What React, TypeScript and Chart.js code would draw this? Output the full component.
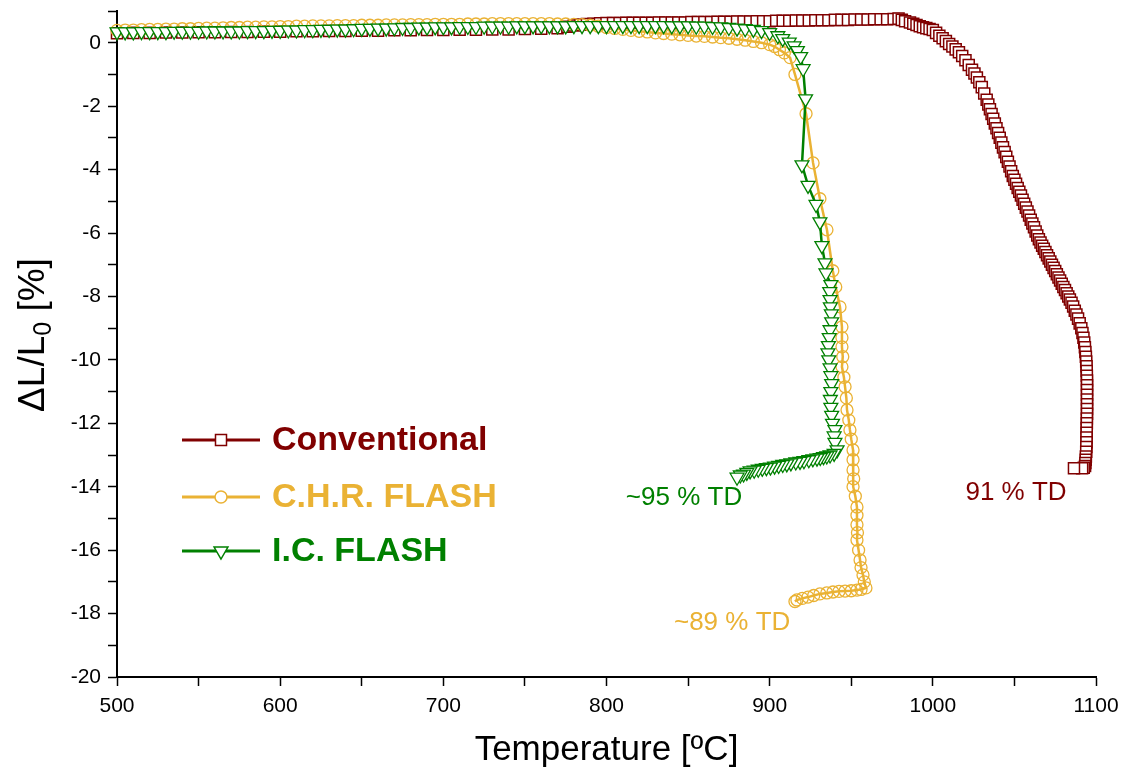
import React, { useEffect, useRef } from 'react';
import { Chart, registerables } from 'chart.js';

Chart.register(...registerables);

// ---- Data: [temperature ºC, ΔL/L0 %] ----
const conventional: [number, number][] = [
  [500, 0.30], [510, 0.31], [520, 0.31], [530, 0.32], [540, 0.32], [550, 0.33], [560, 0.33], [570, 0.34],
  [580, 0.34], [590, 0.35], [600, 0.35], [610, 0.36], [620, 0.36], [630, 0.37], [640, 0.37], [650, 0.38],
  [660, 0.38], [670, 0.39], [680, 0.39], [690, 0.40], [700, 0.40], [710, 0.41], [720, 0.41], [730, 0.42],
  [740, 0.42], [750, 0.43], [760, 0.44], [770, 0.46], [776, 0.50], [780, 0.54], [784, 0.57], [788, 0.59],
  [792, 0.60], [796, 0.61], [800, 0.62], [804, 0.62], [808, 0.62], [812, 0.63], [816, 0.63], [820, 0.63],
  [824, 0.63], [828, 0.63], [832, 0.64], [836, 0.64], [840, 0.64], [844, 0.64], [848, 0.64], [852, 0.65],
  [856, 0.65], [860, 0.65], [864, 0.65], [868, 0.66], [872, 0.66], [876, 0.66], [880, 0.67], [884, 0.67],
  [888, 0.67], [892, 0.68], [896, 0.68], [900, 0.68], [904, 0.69], [908, 0.69], [912, 0.69], [916, 0.70],
  [920, 0.70], [924, 0.70], [928, 0.71], [932, 0.71], [936, 0.71], [940, 0.72], [944, 0.72], [948, 0.72],
  [952, 0.73], [956, 0.73], [960, 0.73], [964, 0.74], [968, 0.74], [972, 0.74], [976, 0.75], [979, 0.76],
  [981, 0.72], [983, 0.68], [986, 0.64], [988, 0.60], [990, 0.56], [992, 0.52], [994, 0.49], [996, 0.46],
  [998, 0.43], [1000, 0.40], [1002, 0.31], [1004, 0.22], [1006, 0.14], [1008, 0.05], [1010, -0.04],
  [1012, -0.12], [1014, -0.21], [1016, -0.30], [1018, -0.42], [1020, -0.55], [1022, -0.70], [1024, -0.85],
  [1025.5, -0.97], [1027, -1.10], [1028.5, -1.25], [1030, -1.40], [1031.5, -1.60], [1033, -1.80],
  [1034, -1.95], [1035, -2.10], [1036, -2.25], [1037, -2.40], [1038, -2.55], [1039, -2.70], [1040, -2.85],
  [1041, -3.00], [1042, -3.15], [1043, -3.30], [1044, -3.45], [1045, -3.60], [1046, -3.75], [1047, -3.90],
  [1048, -4.05], [1049, -4.20], [1050, -4.32], [1051, -4.45], [1052, -4.58], [1053, -4.70], [1054, -4.82],
  [1055, -4.95], [1056, -5.08], [1057, -5.20], [1058, -5.32], [1059, -5.45], [1060, -5.58], [1061, -5.70],
  [1062, -5.82], [1063, -5.95], [1064, -6.08], [1065, -6.20], [1066, -6.30], [1067, -6.40], [1068, -6.50],
  [1069, -6.60], [1070, -6.70], [1071, -6.80], [1072, -6.90], [1073, -7.00], [1074, -7.10], [1075, -7.20],
  [1076, -7.30], [1077, -7.40], [1078, -7.50], [1079, -7.60], [1080, -7.70], [1081, -7.80], [1082, -7.90],
  [1083, -8.00], [1084, -8.10], [1085, -8.20], [1086, -8.32], [1087, -8.45], [1088, -8.57], [1089, -8.70],
  [1090, -8.85], [1091, -9.00], [1091.7, -9.15], [1092.3, -9.30], [1092.8, -9.45], [1093.2, -9.60],
  [1093.5, -9.75], [1093.8, -9.90], [1094, -10.05], [1094.2, -10.20], [1094.3, -10.35], [1094.4, -10.50],
  [1094.5, -10.65], [1094.5, -10.80], [1094.5, -10.95], [1094.5, -11.10], [1094.5, -11.25], [1094.5, -11.40],
  [1094.5, -11.55], [1094.5, -11.70], [1094.4, -11.85], [1094.4, -12.00], [1094.3, -12.15], [1094.3, -12.30],
  [1094.2, -12.45], [1094.2, -12.60], [1094.1, -12.75], [1094, -12.90], [1093.8, -13.05], [1093.7, -13.15],
  [1093.5, -13.25], [1093.3, -13.35], [1092.5, -13.40], [1091.5, -13.42], [1086.5, -13.42],
];

const chrFlash: [number, number][] = [
  [500, 0.39], [505, 0.40], [510, 0.40], [515, 0.41], [520, 0.42], [525, 0.42], [530, 0.43], [535, 0.43],
  [540, 0.44], [545, 0.44], [550, 0.45], [555, 0.46], [560, 0.46], [565, 0.47], [570, 0.48], [575, 0.48],
  [580, 0.49], [585, 0.49], [590, 0.50], [595, 0.50], [600, 0.51], [605, 0.51], [610, 0.52], [615, 0.52],
  [620, 0.53], [625, 0.53], [630, 0.53], [635, 0.54], [640, 0.54], [645, 0.54], [650, 0.55], [655, 0.55],
  [660, 0.55], [665, 0.56], [670, 0.56], [675, 0.56], [680, 0.57], [685, 0.57], [690, 0.57], [695, 0.58],
  [700, 0.58], [705, 0.58], [710, 0.58], [715, 0.59], [720, 0.59], [725, 0.59], [730, 0.60], [735, 0.60],
  [740, 0.60], [745, 0.60], [750, 0.60], [755, 0.60], [760, 0.60], [765, 0.60], [770, 0.59], [775, 0.59],
  [780, 0.58], [785, 0.57], [790, 0.55], [795, 0.52], [800, 0.48], [805, 0.45], [810, 0.42], [815, 0.39],
  [820, 0.36], [825, 0.34], [830, 0.31], [835, 0.29], [840, 0.27], [845, 0.25], [850, 0.23], [855, 0.21],
  [860, 0.20], [865, 0.18], [870, 0.16], [875, 0.14], [880, 0.11], [885, 0.08], [890, 0.04], [895, 0.00],
  [900, -0.06], [903, -0.12], [906, -0.22], [909, -0.32], [912.5, -0.47], [915.5, -1.00], [922.3, -2.24],
  [926.6, -3.79], [930.8, -4.92], [935.1, -5.90], [938.7, -7.19], [940.5, -7.70], [943.1, -8.33],
  [944.3, -8.96], [944.3, -9.30], [944.3, -9.59], [944.8, -9.90], [944.3, -10.22], [945.5, -10.55],
  [946.2, -10.85], [947, -11.20], [947.4, -11.58], [948.5, -11.90], [949.2, -12.21], [950, -12.50],
  [951.1, -12.84], [951.1, -13.15], [951.1, -13.47], [951.5, -13.75], [951.1, -14.00], [952.5, -14.30],
  [953.5, -14.64], [953.5, -14.90], [953.5, -15.20], [953.8, -15.45], [953.5, -15.68], [954.5, -16.00],
  [955.4, -16.31], [956, -16.55], [957.2, -16.78], [958, -17.00], [959, -17.19], [956, -17.24],
  [953.5, -17.26], [950, -17.28], [946.2, -17.29], [942.5, -17.30], [938.8, -17.32], [935, -17.35],
  [930.8, -17.38], [927, -17.43], [923.5, -17.48], [920, -17.52], [916.7, -17.57], [915.5, -17.62],
];

const icFlash: [number, number][] = [
  [500, 0.34], [505, 0.34], [510, 0.34], [515, 0.35], [520, 0.35], [525, 0.35], [530, 0.35], [535, 0.36],
  [540, 0.36], [545, 0.36], [550, 0.36], [555, 0.37], [560, 0.37], [565, 0.37], [570, 0.37], [575, 0.37],
  [580, 0.38], [585, 0.38], [590, 0.38], [595, 0.39], [600, 0.39], [605, 0.40], [610, 0.40], [615, 0.41],
  [620, 0.41], [625, 0.42], [630, 0.42], [635, 0.43], [640, 0.43], [645, 0.44], [650, 0.45], [655, 0.45],
  [660, 0.46], [665, 0.46], [670, 0.47], [675, 0.48], [680, 0.48], [685, 0.49], [690, 0.49], [695, 0.50],
  [700, 0.50], [705, 0.50], [710, 0.51], [715, 0.51], [720, 0.51], [725, 0.52], [730, 0.52], [735, 0.52],
  [740, 0.52], [745, 0.53], [750, 0.53], [755, 0.53], [760, 0.53], [765, 0.53], [770, 0.53], [775, 0.53],
  [780, 0.54], [785, 0.54], [790, 0.54], [795, 0.54], [800, 0.54], [805, 0.54], [810, 0.54], [815, 0.54],
  [820, 0.54], [825, 0.54], [830, 0.54], [835, 0.54], [840, 0.53], [845, 0.53], [850, 0.53], [855, 0.52],
  [860, 0.52], [865, 0.51], [870, 0.50], [875, 0.48], [880, 0.46], [885, 0.44], [890, 0.42], [895, 0.38],
  [900, 0.32], [905, 0.22], [908, 0.13], [912, 0.02], [915, -0.10], [917, -0.25], [919, -0.44],
  [920.5, -0.82], [922, -1.77], [919.8, -3.85], [923.5, -4.50], [928.4, -5.10], [930.8, -5.65],
  [932, -6.40], [933.9, -6.94], [934.5, -7.26], [937.5, -7.63], [936.8, -7.85], [937, -8.10],
  [937.2, -8.33], [937.8, -8.55], [938, -8.80], [937, -9.05], [936.5, -9.30], [936, -9.55], [935.7, -9.78],
  [936.2, -10.00], [937, -10.25], [937.5, -10.50], [938, -10.75], [937.5, -11.00], [937.2, -11.25],
  [937.5, -11.50], [938, -11.75], [938.5, -12.00], [940, -12.20], [939.5, -12.40], [940, -12.60],
  [941.3, -12.84], [939.5, -12.95], [937, -13.00], [935, -13.03], [933, -13.05], [931, -13.08],
  [929, -13.10], [926.5, -13.12], [924, -13.15], [921, -13.18], [918.6, -13.20], [916, -13.22],
  [913, -13.25], [910.5, -13.28], [908, -13.30], [905.5, -13.33], [903, -13.35], [900.5, -13.38],
  [898, -13.40], [895.5, -13.42], [893, -13.45], [890.5, -13.48], [888, -13.50], [886, -13.55],
  [884, -13.60], [882, -13.63], [880, -13.70],
];

const seriesNames = ['Conventional', 'C.H.R. FLASH', 'I.C. FLASH'];
const annotationTexts = ['91 % TD', '~89 % TD', '~95 % TD'];
// annotation anchor positions in data units (temperature, ΔL/L0)
const annotationAnchors: [number, number][] = [[1051, -14.2], [877, -18.3], [847.5, -14.35]];

const X_MIN = 500, X_MAX = 1100, Y_MIN = -20, Y_MAX = 1;

const FONT = '"Liberation Sans", Arial, Helvetica, sans-serif';
const RED = '#800000';
const ORANGE = '#EAB234';
const GREEN = '#008000';
const COLORS = [RED, ORANGE, GREEN];
const MARKERS = ['rect', 'circle', 'triangle'];

function drawMarker(ctx: CanvasRenderingContext2D, kind: string, x: number, y: number, color: string) {
  ctx.save();
  ctx.fillStyle = '#fff';
  ctx.strokeStyle = color;
  ctx.lineWidth = 1.5;
  ctx.beginPath();
  if (kind === 'rect') {
    ctx.rect(x - 5.5, y - 5.5, 11, 11);
  } else if (kind === 'circle') {
    ctx.arc(x, y, 6, 0, Math.PI * 2);
  } else {
    const r = 8;
    ctx.moveTo(x, y + r);
    ctx.lineTo(x - r * 0.866, y - r / 2);
    ctx.lineTo(x + r * 0.866, y - r / 2);
    ctx.closePath();
  }
  ctx.fill();
  ctx.stroke();
  ctx.restore();
}

const overlayPlugin = {
  id: 'overlay',
  afterDraw(chart: any) {
    const { ctx, chartArea, scales } = chart;
    ctx.save();

    // X axis title
    ctx.fillStyle = '#000';
    ctx.font = `35px ${FONT}`;
    ctx.textAlign = 'center';
    ctx.textBaseline = 'alphabetic';
    ctx.fillText('Temperature [ºC]', (chartArea.left + chartArea.right) / 2, 760);

    // Y axis title with subscript
    const bigFont = `37px ${FONT}`;
    const subFont = `25px ${FONT}`;
    ctx.font = bigFont;
    const p1 = 'ΔL/L';
    const p3 = ' [%]';
    const w1 = ctx.measureText(p1).width;
    const w3 = ctx.measureText(p3).width;
    ctx.font = subFont;
    const w2 = ctx.measureText('0').width;
    const total = w1 + w2 + w3;
    ctx.save();
    ctx.translate(44, 335);
    ctx.rotate(-Math.PI / 2);
    ctx.textAlign = 'left';
    ctx.textBaseline = 'alphabetic';
    let px = -total / 2;
    ctx.font = bigFont;
    ctx.fillText(p1, px, 0);
    px += w1;
    ctx.font = subFont;
    ctx.fillText('0', px, 7);
    px += w2;
    ctx.font = bigFont;
    ctx.fillText(p3, px, 0);
    ctx.restore();

    // Annotations
    ctx.font = `26px ${FONT}`;
    ctx.textAlign = 'center';
    ctx.textBaseline = 'middle';
    annotationTexts.forEach((t, i) => {
      const [ax, ay] = annotationAnchors[i];
      ctx.fillStyle = COLORS[i];
      ctx.fillText(t, scales.x.getPixelForValue(ax), scales.y.getPixelForValue(ay));
    });

    // Legend
    const legendYs = [440, 497, 551];
    seriesNames.forEach((name, i) => {
      const y = legendYs[i];
      ctx.strokeStyle = COLORS[i];
      ctx.lineWidth = 3;
      ctx.beginPath();
      ctx.moveTo(182, y);
      ctx.lineTo(260, y);
      ctx.stroke();
      drawMarker(ctx, MARKERS[i], 221, y, COLORS[i]);
      ctx.fillStyle = COLORS[i];
      ctx.font = `bold 34px ${FONT}`;
      ctx.textAlign = 'left';
      ctx.textBaseline = 'middle';
      ctx.fillText(name, 272, y + 1);
    });

    ctx.restore();
  },
};

export default function App() {
  const canvasRef = useRef<HTMLCanvasElement>(null);

  useEffect(() => {
    const canvas = canvasRef.current;
    if (!canvas) return;
    const mk = (pairs: [number, number][]) => pairs.map(([x, y]) => ({ x, y }));
    const chart = new Chart(canvas, {
      type: 'line',
      data: {
        datasets: [
          {
            label: seriesNames[0],
            data: mk(conventional),
            borderColor: RED,
            backgroundColor: '#ffffff',
            borderWidth: 2.5,
            pointStyle: 'rect',
            pointRadius: 7.8,
            pointBorderWidth: 1.5,
            pointBorderColor: RED,
            pointBackgroundColor: '#ffffff',
            tension: 0,
            order: 3,
            clip: false,
          },
          {
            label: seriesNames[1],
            data: mk(chrFlash),
            borderColor: ORANGE,
            backgroundColor: 'rgba(255,255,255,0)',
            borderWidth: 2.5,
            pointStyle: 'circle',
            pointRadius: 6,
            pointBorderWidth: 1.3,
            pointBorderColor: ORANGE,
            pointBackgroundColor: 'rgba(255,255,255,0)',
            tension: 0,
            order: 2,
            clip: false,
          },
          {
            label: seriesNames[2],
            data: mk(icFlash),
            borderColor: GREEN,
            backgroundColor: '#ffffff',
            borderWidth: 2.5,
            pointStyle: 'triangle',
            pointRotation: 180,
            pointRadius: 8,
            pointBorderWidth: 1.3,
            pointBorderColor: GREEN,
            pointBackgroundColor: '#ffffff',
            tension: 0,
            order: 1,
            clip: false,
          },
        ],
      },
      options: {
        responsive: false,
        animation: false,
        events: [],
        layout: { padding: { top: 11, right: 31, left: 0, bottom: 0 } },
        plugins: {
          legend: { display: false },
          tooltip: { enabled: false },
          title: { display: false },
        },
        scales: {
          x: {
            type: 'linear',
            min: X_MIN,
            max: X_MAX,
            afterFit: (s: any) => { s.height = 92; s.paddingLeft = 0; s.paddingRight = 0; s.paddingTop = 0; s.paddingBottom = 0; },
            border: { display: true, color: '#000', width: 2 },
            grid: { display: true, drawOnChartArea: false, drawTicks: true, tickLength: 9, tickWidth: 1.5, tickColor: '#000' },
            ticks: {
              stepSize: 50,
              autoSkip: false,
              maxRotation: 0,
              color: '#000',
              padding: 8,
              font: { family: FONT, size: 21 },
              callback: (v: any) => (Number(v) % 100 === 0 ? String(v) : ''),
            },
          },
          y: {
            type: 'linear',
            min: Y_MIN,
            max: Y_MAX,
            afterFit: (s: any) => { s.width = 117; s.paddingLeft = 0; s.paddingRight = 0; s.paddingTop = 0; s.paddingBottom = 0; },
            border: { display: true, color: '#000', width: 2 },
            grid: { display: true, drawOnChartArea: false, drawTicks: true, tickLength: 9, tickWidth: 1.5, tickColor: '#000' },
            ticks: {
              stepSize: 1,
              autoSkip: false,
              color: '#000',
              padding: 7,
              font: { family: FONT, size: 21 },
              callback: (v: any) => (Number(v) % 2 === 0 ? String(v) : ''),
            },
          },
        },
      },
      plugins: [overlayPlugin],
    } as any);
    return () => chart.destroy();
  }, []);

  return (
    <div style={{ position: 'absolute', left: 0, top: 0, width: 1127, height: 769, background: '#ffffff' }}>
      <canvas ref={canvasRef} width={1127} height={769} style={{ display: 'block' }} />
    </div>
  );
}
